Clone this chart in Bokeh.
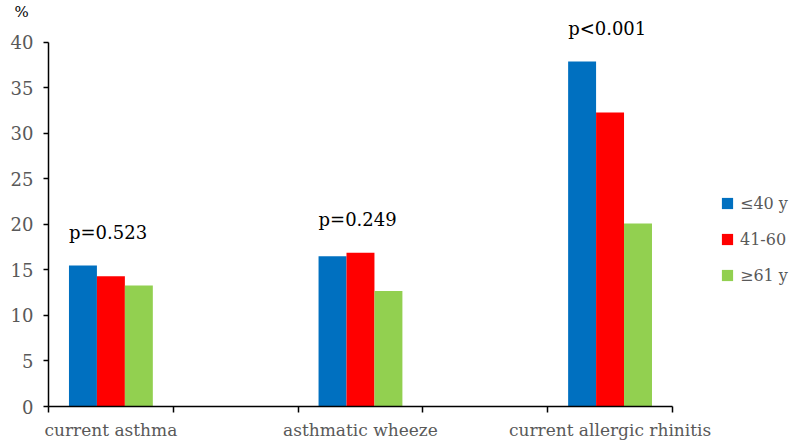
from bokeh.plotting import figure
from bokeh.models import Range1d, FixedTicker, Legend, LegendItem, ColumnDataSource
from bokeh.embed import file_html
from bokeh.resources import INLINE
from bokeh.core.properties import value
import numpy as np

# ---- data ----
slots = ["current asthma", "", "asthmatic wheeze", "", "current allergic rhinitis"]
categories = ["current asthma", "asthmatic wheeze", "current allergic rhinitis"]
age_groups = ["≤40 y", "41-60", "≥61 y"]
le40 = [15.5, 16.5, 37.9]
a41_60 = [14.3, 16.9, 32.3]
ge61 = [13.3, 12.7, 20.1]
p_values = ["p=0.523", "p=0.249", "p<0.001"]
y_ticks = [0, 5, 10, 15, 20, 25, 30, 35, 40]
colors = ["#0070C0", "#FF0000", "#92D050"]

FONT = "DejaVu Serif"
GRAY = "#595959"

series = [le40, a41_60, ge61]
centers = np.array([slots.index(c) + 0.5 for c in categories])
bw = 0.224

p = figure(width=793, height=442, output_backend="svg", toolbar_location=None,
           x_range=Range1d(0, 5.97), y_range=Range1d(0, 42.4),
           min_border_left=48, min_border_right=0, min_border_top=18, min_border_bottom=36)
p.outline_line_color = None
p.xgrid.visible = False
p.ygrid.visible = False
p.background_fill_color = "white"

p.title.text = "%"
p.title.align = "left"
p.title.offset = -34
p.title.standoff = 0
p.title.text_font = FONT
p.title.text_font_size = "15px"
p.title.text_font_style = "normal"
p.title.text_color = "black"

renderers = []
for i, (vals, col) in enumerate(zip(series, colors)):
    src = ColumnDataSource(dict(x=centers + (i - 1) * bw, top=vals))
    r = p.vbar(x="x", top="top", width=bw, bottom=0, source=src,
               fill_color=col, line_color=None)
    renderers.append(r)

# p-value labels above each group
tops = np.max(np.array(series), axis=0)
psrc = ColumnDataSource(dict(x=centers - 1.5 * bw, y=tops + 3.6, t=p_values))
p.text(x="x", y="y", text="t", source=psrc, text_font=value(FONT),
       text_font_size="18px", text_color="black", text_align="left",
       text_baseline="middle")

# x axis
xa = p.xaxis[0]
xa.ticker = FixedTicker(ticks=list(centers), minor_ticks=list(range(len(slots) + 1)))
xa.major_label_overrides = {float(c): s for c, s in zip(centers, categories)}
xa.bounds = (0, len(slots))
xa.major_tick_out = 0
xa.major_tick_in = 0
xa.minor_tick_out = 6
xa.minor_tick_in = 0
xa.axis_line_color = "black"
xa.axis_line_width = 1.5
xa.minor_tick_line_color = "black"
xa.minor_tick_line_width = 1.5
xa.major_label_text_font = FONT
xa.major_label_text_font_size = "17px"
xa.major_label_text_color = GRAY
xa.major_label_standoff = 7

# y axis
ya = p.yaxis[0]
ya.ticker = FixedTicker(ticks=y_ticks)
ya.bounds = (0, 40)
ya.major_tick_out = 5
ya.major_tick_in = 0
ya.minor_tick_out = 0
ya.minor_tick_in = 0
ya.axis_line_color = "black"
ya.axis_line_width = 1.5
ya.major_tick_line_color = "black"
ya.major_tick_line_width = 1.5
ya.major_label_text_font = FONT
ya.major_label_text_font_size = "18px"
ya.major_label_text_color = GRAY
ya.major_label_standoff = 10

legend = Legend(items=[LegendItem(label=g, renderers=[r]) for g, r in zip(age_groups, renderers)],
                location=(672, 121), orientation="vertical",
                glyph_width=14, glyph_height=14, label_height=20, spacing=16,
                padding=0, margin=0, label_standoff=6,
                label_text_font=FONT, label_text_font_size="16px", label_text_color=GRAY,
                border_line_color=None, background_fill_alpha=0)
p.add_layout(legend)

open("out.html", "w").write(file_html(p, INLINE))
